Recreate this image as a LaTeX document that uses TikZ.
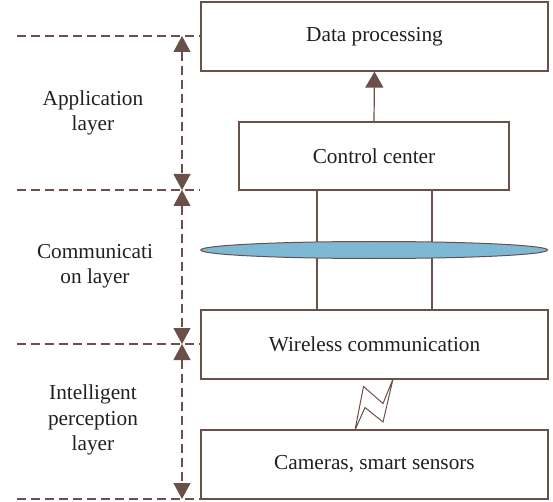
\documentclass[tikz,border=0pt]{standalone}
\usepackage{fontspec}
\setmainfont{Liberation Serif}
\usetikzlibrary{arrows.meta,shapes.geometric}
\definecolor{linebrown}{HTML}{6B5049}
\definecolor{textgray}{HTML}{231F20}
\definecolor{netblue}{HTML}{7DB9D5}
\tikzset{
  box/.style={draw=linebrown,line width=1.2pt,fill=white,inner sep=0pt,
    text=textgray,font=\fontsize{21.3}{25}\selectfont},
  layerlabel/.style={align=center,text=textgray,inner sep=0pt,
    font=\fontsize{21.3}{25.5}\selectfont},
  guide/.style={draw=linebrown,line width=1.1pt,dash pattern=on 9pt off 5pt},
  span/.style={draw=linebrown,line width=1.1pt,dash pattern=on 9pt off 5pt,
    {Triangle[length=16pt,width=17pt]}-{Triangle[length=16pt,width=17pt]},
    shorten <=0pt,shorten >=0pt},
  link/.style={draw=linebrown,line width=1.2pt},
  bolt/.style={draw=linebrown,line width=1pt,line join=miter}
}
\begin{document}
\begin{tikzpicture}[x=1pt,y=-1pt]
\useasboundingbox (0,0) rectangle (553,502);

% stacked system boxes
\node[box,minimum width=347pt,minimum height=69pt] (data) at (374.5,36.5) {Data processing};
\node[box,minimum width=270pt,minimum height=68pt] (ctrl) at (374,156) {Control center};
\node[box,minimum width=347pt,minimum height=69pt] (wire) at (374.5,344.5) {Wireless communication};
\node[box,minimum width=347pt,minimum height=69pt] (cam) at (374.5,464.5) {Cameras, smart sensors};

% links between control center and the wireless tier, crossing the network
\coordinate (xl) at (317,0);
\coordinate (xr) at (432,0);
\draw[link] (ctrl.south -| xl) -- (wire.north -| xl);
\draw[link] (ctrl.south -| xr) -- (wire.north -| xr);
\node[ellipse,draw=linebrown,line width=1pt,fill=netblue,inner sep=0pt,
  minimum width=347pt,minimum height=17pt] (net) at (374.2,250) {};

% data flow upwards
\draw[link,-{Triangle[length=16pt,width=18pt]}] (ctrl.north) -- (data.south);

% radio link between sensors and the wireless tier
\coordinate (bt) at (393,379);
\coordinate (bl) at (363.5,386.5);
\coordinate (bm) at (383,403.5);
\coordinate (bn) at (365,407.5);
\coordinate (bo) at (383,422);
\coordinate (bb) at (355,430);
\draw[bolt] (bb) -- (bl) -- (bm) -- (bt) -- (bo) -- (bn) -- (bb);

% layer boundaries
\coordinate (g0) at (17,36);
\coordinate (g1) at (17,190);
\coordinate (g2) at (17,344);
\coordinate (g3) at (17,499);
\draw[guide] (g0) -- (data.west |- g0);
\draw[guide] (g1) -- (data.west |- g1);
\draw[guide] (g2) -- (wire.west |- g2);
\draw[guide] (g3) -- (cam.west |- g3);

% layer extents
\coordinate (a0) at (182,36);
\coordinate (a1) at (182,190);
\coordinate (a2) at (182,344);
\coordinate (a3) at (182,499);
\draw[span] (a0) -- (a1);
\draw[span] (a1) -- (a2);
\draw[span] (a2) -- (a3);

% layer names
\node[layerlabel] (app) at (93,113) {Application\\layer};
\node[layerlabel] (com) at (95,266) {Communicati\\on layer};
\node[layerlabel] (per) at (93,420) {Intelligent\\perception\\layer};
\end{tikzpicture}
\end{document}
